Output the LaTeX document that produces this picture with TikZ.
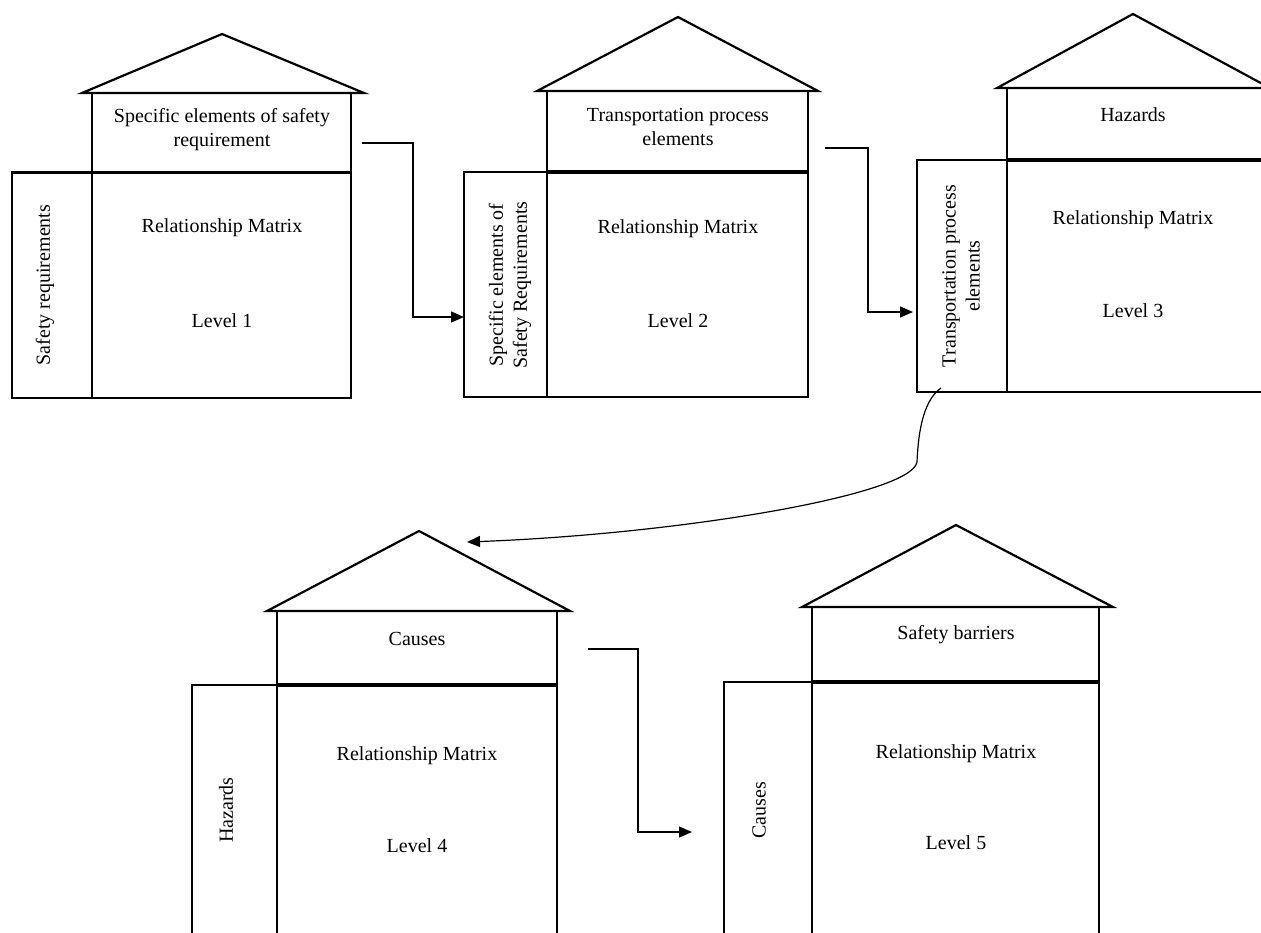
\documentclass[tikz,border=0pt]{standalone}
\usepackage{fontspec}
\setmainfont{Liberation Serif}
\usetikzlibrary{arrows.meta}
\begin{document}
\begin{tikzpicture}[x=1pt,y=-1pt,
  frame/.style={draw, line width=2.2pt, inner sep=0pt, outer sep=0pt, anchor=north west},
  roof/.style={draw, line width=2.2pt, line join=miter},
  divider/.style={line width=3.8pt},
  lbl/.style={font=\fontsize{20}{24}\selectfont, align=center, inner sep=0pt},
  conn/.style={line width=1.2pt, -{Triangle[length=13pt,width=11pt]}},
]
\path[use as bounding box, clip] (0,0) rectangle (1261,932);
\fill[white] (0,0) rectangle (1261,932);

% ---------- House 1 ----------
\draw[roof] (82,93) -- (222,34) -- (364,93) -- cycle;
\node[frame, minimum width=259pt, minimum height=79pt] (T1) at (92,93) {};
\node[frame, minimum width=80pt, minimum height=226pt] (L1) at (12,172) {};
\node[frame, minimum width=259pt, minimum height=226pt] (M1) at (92,172) {};
\draw[line width=3pt] (L1.north west) -- (M1.north east);
\node[lbl] (t1) at (222,130) {Specific elements of safety\\requirement};
\node[lbl] (r1) at (222,228) {Relationship Matrix};
\node[lbl] (v1) at (222,321) {Level 1};
\node[lbl, rotate=90] (s1) at (45,285) {Safety requirements};

% ---------- House 2 ----------
\draw[roof] (537,91) -- (678,17) -- (818,91) -- cycle;
\node[frame, minimum width=261pt, minimum height=81pt] (T2) at (547,91) {};
\node[frame, minimum width=83pt, minimum height=225pt] (L2) at (464,172) {};
\node[frame, minimum width=261pt, minimum height=225pt] (M2) at (547,172) {};
\draw[divider] (T2.south west) -- (T2.south east);
\node[lbl] (t2) at (678,127) {Transportation process\\elements};
\node[lbl] (r2) at (678,229) {Relationship Matrix};
\node[lbl] (v2) at (678,321) {Level 2};
\node[lbl, rotate=90] (s2) at (510,285) {Specific elements of\\Safety Requirements};

% ---------- House 3 ----------
\draw[roof] (997,88) -- (1133,14) -- (1270,88) -- cycle;
\node[frame, minimum width=260pt, minimum height=72pt] (T3) at (1007,88) {};
\node[frame, minimum width=90pt, minimum height=232pt] (L3) at (917,160) {};
\node[frame, minimum width=260pt, minimum height=232pt] (M3) at (1007,160) {};
\draw[divider] (T3.south west) -- (T3.south east);
\node[lbl] (t3) at (1133,115) {Hazards};
\node[lbl] (r3) at (1133,220) {Relationship Matrix};
\node[lbl] (v3) at (1133,311) {Level 3};
\node[lbl, rotate=90] (s3) at (961,276) {Transportation process\\elements};

% ---------- House 4 ----------
\draw[roof] (267,611) -- (419,531) -- (570,611) -- cycle;
\node[frame, minimum width=280pt, minimum height=74pt] (T4) at (277,611) {};
\node[frame, minimum width=85pt, minimum height=270pt] (L4) at (192,685) {};
\node[frame, minimum width=280pt, minimum height=270pt] (M4) at (277,685) {};
\draw[divider] (T4.south west) -- (T4.south east);
\node[lbl] (t4) at (417,639) {Causes};
\node[lbl] (r4) at (417,756) {Relationship Matrix};
\node[lbl] (v4) at (417,846) {Level 4};
\node[lbl, rotate=90] (s4) at (226,810) {Hazards};

% ---------- House 5 ----------
\draw[roof] (802,607) -- (956,525) -- (1113,607) -- cycle;
\node[frame, minimum width=287pt, minimum height=75pt] (T5) at (812,607) {};
\node[frame, minimum width=88pt, minimum height=270pt] (L5) at (724,682) {};
\node[frame, minimum width=287pt, minimum height=270pt] (M5) at (812,682) {};
\draw[divider] (T5.south west) -- (T5.south east);
\node[lbl] (t5) at (956,635) {Safety barriers};
\node[lbl] (r5) at (956,754) {Relationship Matrix};
\node[lbl] (v5) at (956,843) {Level 5};
\node[lbl, rotate=90] (s5) at (759,810) {Causes};

% ---------- Connectors ----------
\coordinate (a1s) at (362,143);
\draw[conn] (a1s) -- (413,143) -- (413,317) -- (L2.west |- {(0,317)});
\coordinate (a2s) at (825,148);
\draw[conn, shorten >=4pt] (a2s) -- (868,148) -- (868,312) -- (L3.west |- {(0,312)});
\coordinate (a3s) at (588,649);
\coordinate (a3e) at (692,832);
\draw[conn] (a3s) -- (638,649) -- (638,832) -- (a3e);
\coordinate (a4s) at (941,388);
\coordinate (a4e) at (467,542);
\draw[conn] (a4s) .. controls (921,402) and (918,440) .. (917,462)
  .. controls (912,495) and (680,534) .. (a4e);
\end{tikzpicture}
\end{document}
